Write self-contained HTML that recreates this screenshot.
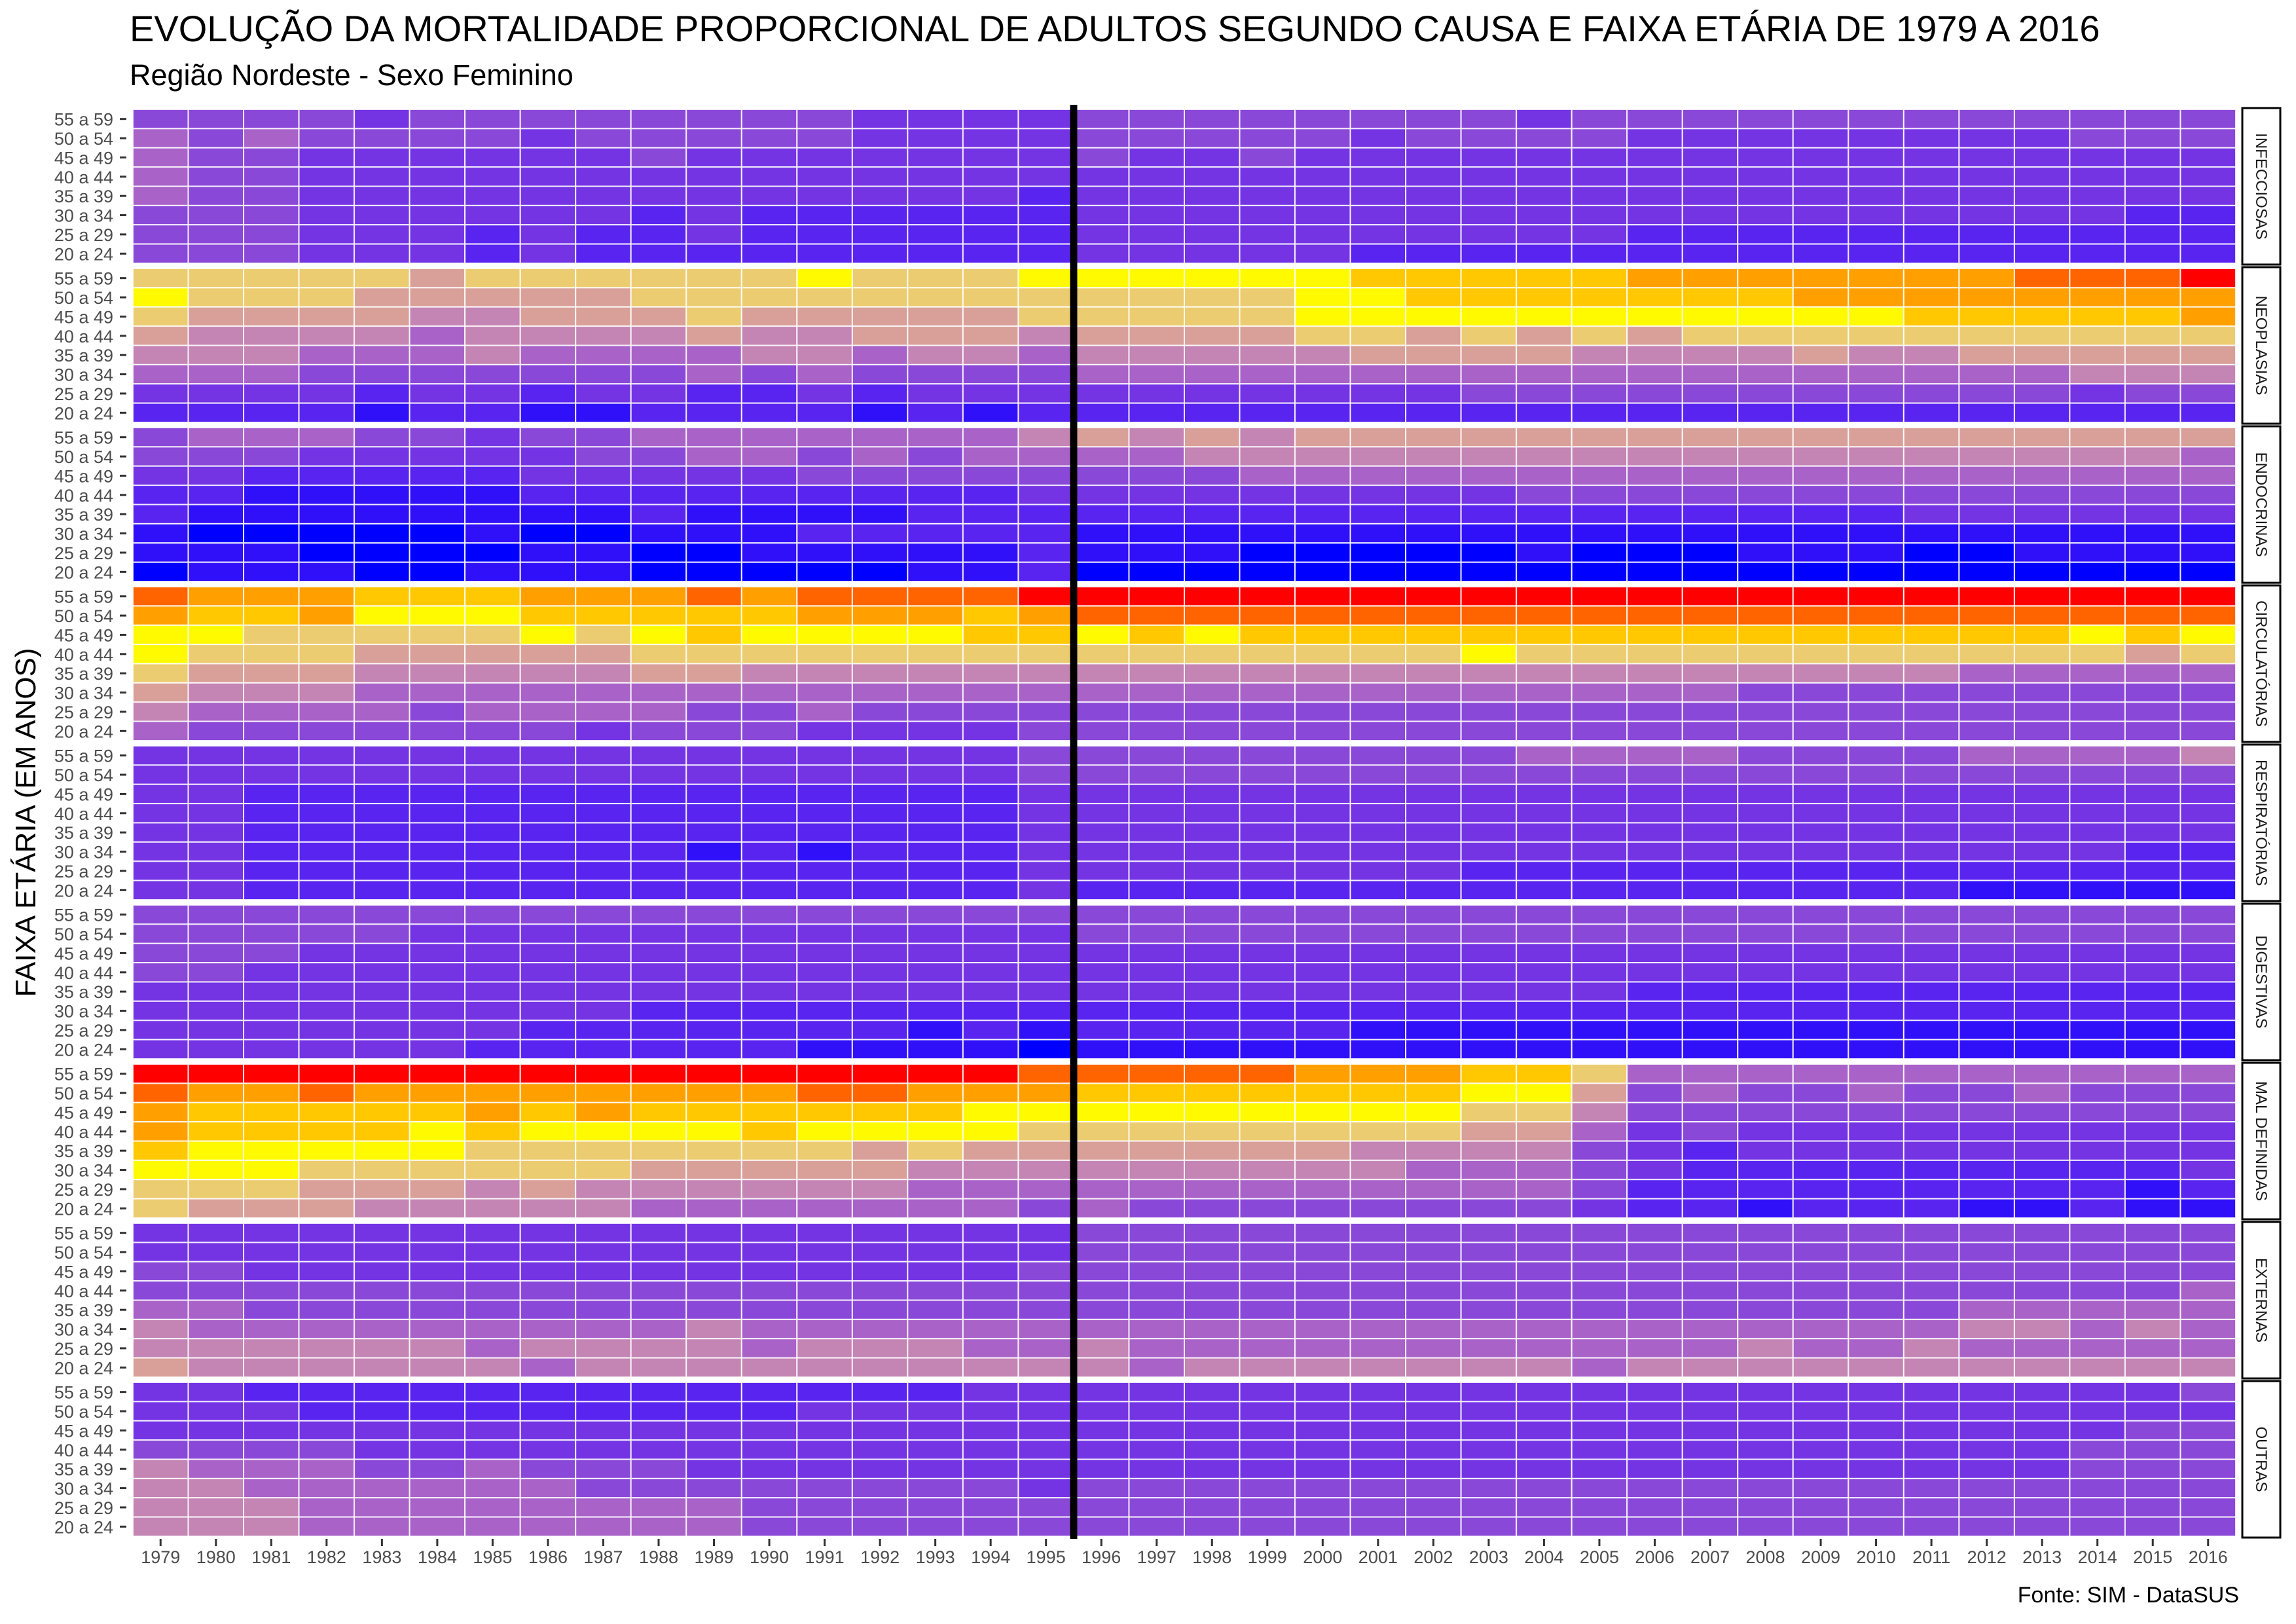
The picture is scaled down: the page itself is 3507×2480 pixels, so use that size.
<!DOCTYPE html>
<html><head><meta charset="utf-8">
<style>
html,body{margin:0;padding:0;background:#fff;}
svg{display:block;font-family:"Liberation Sans",Arial,sans-serif;}
</style></head>
<body>
<svg id="chart" width="3507" height="2480" viewBox="0 0 3507 2480" xmlns="http://www.w3.org/2000/svg">
<text x="198" y="63" font-size="56" fill="#000">EVOLUÇÃO DA MORTALIDADE PROPORCIONAL DE ADULTOS SEGUNDO CAUSA E FAIXA ETÁRIA DE 1979 A 2016</text>
<text x="198" y="130" font-size="45" fill="#000">Região Nordeste - Sexo Feminino</text>
<text transform="translate(54,1256) rotate(-90)" text-anchor="middle" font-size="44" fill="#000">FAIXA ETÁRIA (EM ANOS)</text>
<text x="3420" y="2447" text-anchor="end" font-size="34" fill="#000">Fonte: SIM - DataSUS</text>
<g id="cells"></g>
<g id="axes"></g>
</svg>
<script>
const years = [];
for (let y = 1979; y <= 2016; y++) years.push(y);
const ageGroups = ["55 a 59","50 a 54","45 a 49","40 a 44","35 a 39","30 a 34","25 a 29","20 a 24"];
const causes = ["INFECCIOSAS","NEOPLASIAS","ENDOCRINAS","CIRCULATÓRIAS","RESPIRATÓRIAS","DIGESTIVAS","MAL DEFINIDAS","EXTERNAS","OUTRAS"];
// values on 0..13 scale (hex digits), rows 55-59 .. 20-24, columns 1979..2016
const infecciosas = ["44443444444443333444444443444444444444","54544443444443333444443444433333333444","54433333343333333433433333333333333333","54433333333333333333333333333333333333","54433333333333332333333333333333333333","44433333323222222333333333333333333322","44433323223222222333333333322222222222","44433323222222222333332222222222222222"];
const neoplasias = ["8888878888889888999999aaaaabbbbbbbcccd","98887777788888888888899aaaaaaabbbbbbbb","87777667778777778888899999999999aaaaab","76666566667667776777788787878888888888","66655565555665665666667777666676677777","55544444445454444555555555555555555666","33332332332232333333333344444444444344","22221221122221212222222222222222222222"];
const endocrinas = ["45554434455555556767677777777777777777","44433333445545455556666666666666666665","33222223333344444444555555555555555555","22111112222222223333333334444444444444","21111111121111222222222222222222333333","10000010011122222111111111111111111111","11100001100111112111000001000111001111","01110011100000112000000000000000000000"];
const circulatorias = ["cbbbaaabbbcbccccdddddddddddddddddddddd","baab999aaaaabbbabccccccccccccccccccccc","9988888989a9999aa9a9aaaaaaaaaaaaaaa9a9","98887777788888888888888898888888888878","87776666677666666666666666666666655555","76665555555555555555555555555444444444","65555455554454444444444444444444444444","54444444344433334444444444444444444444"];
const respiratorias = ["33333333333333334444444445555444455556","33333333333333334444444444444444444444","33222222222222223333333333333333333333","33222222222222223333333333333333333333","33222222222222223333333333333333333333","33222222221212223333333333333333333322","33222222222222223333333322222222222222","33222222222222223222222222222222211111"];
const digestivas = ["44444444444444444444444444444444444444","44444333333333333444444444444444444444","44433333333333333333333333333333333333","44333333333333333333333333333333333333","33333333333333333333333333322222222222","33333333322222222222222222222222222222","33333332222222121222221111111111111111","33333322222211110111111111111111111111"];
const malDefinidas = [
  "ddddddddddddddddc" + "ccccbbbaa8" + "55555555555",
  "cbbcbbbbbbbbccbbb" + "aaaaaaa997" + "45445445444",
  "baaaaababaaaaaa99" + "9999999886" + "44444444444",
  "baaaa9a9999a99998" + "8888888775" + "34333333333",
  "a9999988888887877" + "7777766664" + "32333333333",
  "99988888877777666" + "6666665554" + "32222222223",
  "88877767666666555" + "5555555554" + "22222222212",
  "87776666655555554" + "5444444443" + "22122211211"];
const externas = ["33333333333333333444444444444444444444","33333333333333333444444444444444444444","44333333333333334444444444444444444444","44444444444444444444444444444444444445","55444444444444444444444444444444455555","65555555556555555555555555555555566565","66666656666566655655555555555655655555","76666665666666666656666666566666666666"];
const outras = ["33222222222222233333333333333333333334","33322222222233333333333333333333333333","33333333333333333333333333333333333344","44443333333333333333333333333333333444","65554454443333333333333333333333333444","66555555444444443444444444444444444444","66655555555444444444444444444444444444","66655555555444444444444444444444444444"];
const panels = [infecciosas, neoplasias, endocrinas, circulatorias, respiratorias, digestivas, malDefinidas, externas, outras];

const NS = "http://www.w3.org/2000/svg";
const X0 = 203, X1 = 3415, TOP = 167, PITCH = 243, PH = 235;
const CW = (X1 - X0) / years.length, RH = PH / ageGroups.length;
function xPos(i){ return X0 + i * CW; }
function panelTop(p){ return TOP + p * PITCH; }
function yPos(p, r){ return panelTop(p) + r * RH; }
const stops = [[0,[0,0,255]],[1,[48,16,248]],[2,[90,36,240]],[3,[116,52,228]],[4,[138,72,216]],[5,[168,98,200]],[6,[196,132,180]],[7,[216,160,152]],[8,[236,204,112]],[9,[255,250,0]],[10,[255,200,0]],[11,[255,160,0]],[12,[255,100,0]],[13,[255,0,0]]];
function colorOf(v){
  for (let k = 0; k < stops.length - 1; k++){
    const a = stops[k], b = stops[k+1];
    if (v <= b[0]){
      const t = (v - a[0]) / (b[0] - a[0]);
      const c = a[1].map((q, j) => Math.round(q + (b[1][j] - q) * t));
      return "rgb(" + c.join(",") + ")";
    }
  }
  return "rgb(255,0,0)";
}
const cells = document.getElementById("cells");
const axes = document.getElementById("axes");
panels.forEach((rows, p) => {
  rows.forEach((row, r) => {
    for (let i = 0; i < years.length; i++){
      const v = parseInt(row[i] || "4", 16);
      const rc = document.createElementNS(NS, "rect");
      rc.setAttribute("x", xPos(i)); rc.setAttribute("y", yPos(p, r));
      rc.setAttribute("width", CW); rc.setAttribute("height", RH);
      rc.setAttribute("fill", colorOf(v));
      rc.setAttribute("stroke", "rgba(255,255,255,0.85)"); rc.setAttribute("stroke-width", "2");
      
      
      cells.appendChild(rc);
    }
    const t = document.createElementNS(NS, "text");
    t.setAttribute("x", 173); t.setAttribute("y", yPos(p, r) + RH / 2 + 10);
    t.setAttribute("text-anchor", "end"); t.setAttribute("font-size", "27"); t.setAttribute("fill", "#4d4d4d");
    t.textContent = ageGroups[r];
    
    
    axes.appendChild(t);
    const tk = document.createElementNS(NS, "line");
    tk.setAttribute("x1", 183); tk.setAttribute("x2", 193);
    tk.setAttribute("y1", yPos(p, r) + RH / 2); tk.setAttribute("y2", yPos(p, r) + RH / 2);
    tk.setAttribute("stroke", "#333"); tk.setAttribute("stroke-width", "3");
    
    
    axes.appendChild(tk);
  });
  const sr = document.createElementNS(NS, "rect");
  sr.setAttribute("x", 3425); sr.setAttribute("y", panelTop(p) - 2);
  sr.setAttribute("width", 58); sr.setAttribute("height", PH + 4);
  sr.setAttribute("fill", "#fff"); sr.setAttribute("stroke", "#000"); sr.setAttribute("stroke-width", "3");
  
  
  axes.appendChild(sr);
  const st = document.createElementNS(NS, "text");
  const cy = panelTop(p) + PH / 2;
  st.setAttribute("transform", "translate(3446," + cy + ") rotate(90)");
  st.setAttribute("text-anchor", "middle"); st.setAttribute("font-size", "24"); st.setAttribute("fill", "#1a1a1a");
  st.textContent = causes[p];
  
  
  axes.appendChild(st);
});
years.forEach((yr, i) => {
  const cx = xPos(i) + CW / 2;
  const tk = document.createElementNS(NS, "line");
  tk.setAttribute("x1", cx); tk.setAttribute("x2", cx);
  tk.setAttribute("y1", 2350); tk.setAttribute("y2", 2361);
  tk.setAttribute("stroke", "#333"); tk.setAttribute("stroke-width", "3");
  
  
  axes.appendChild(tk);
  const t = document.createElementNS(NS, "text");
  t.setAttribute("x", cx); t.setAttribute("y", 2387);
  t.setAttribute("text-anchor", "middle"); t.setAttribute("font-size", "27"); t.setAttribute("fill", "#4d4d4d");
  t.textContent = yr;
  
  
  axes.appendChild(t);
});
const vline = document.createElementNS(NS, "rect");
const bi = years.indexOf(1996);
vline.setAttribute("x", xPos(bi) - 5.5); vline.setAttribute("y", 160);
vline.setAttribute("width", 11); vline.setAttribute("height", 2350 - 160);
vline.setAttribute("fill", "#000");


axes.appendChild(vline);
</script>
</body></html>
